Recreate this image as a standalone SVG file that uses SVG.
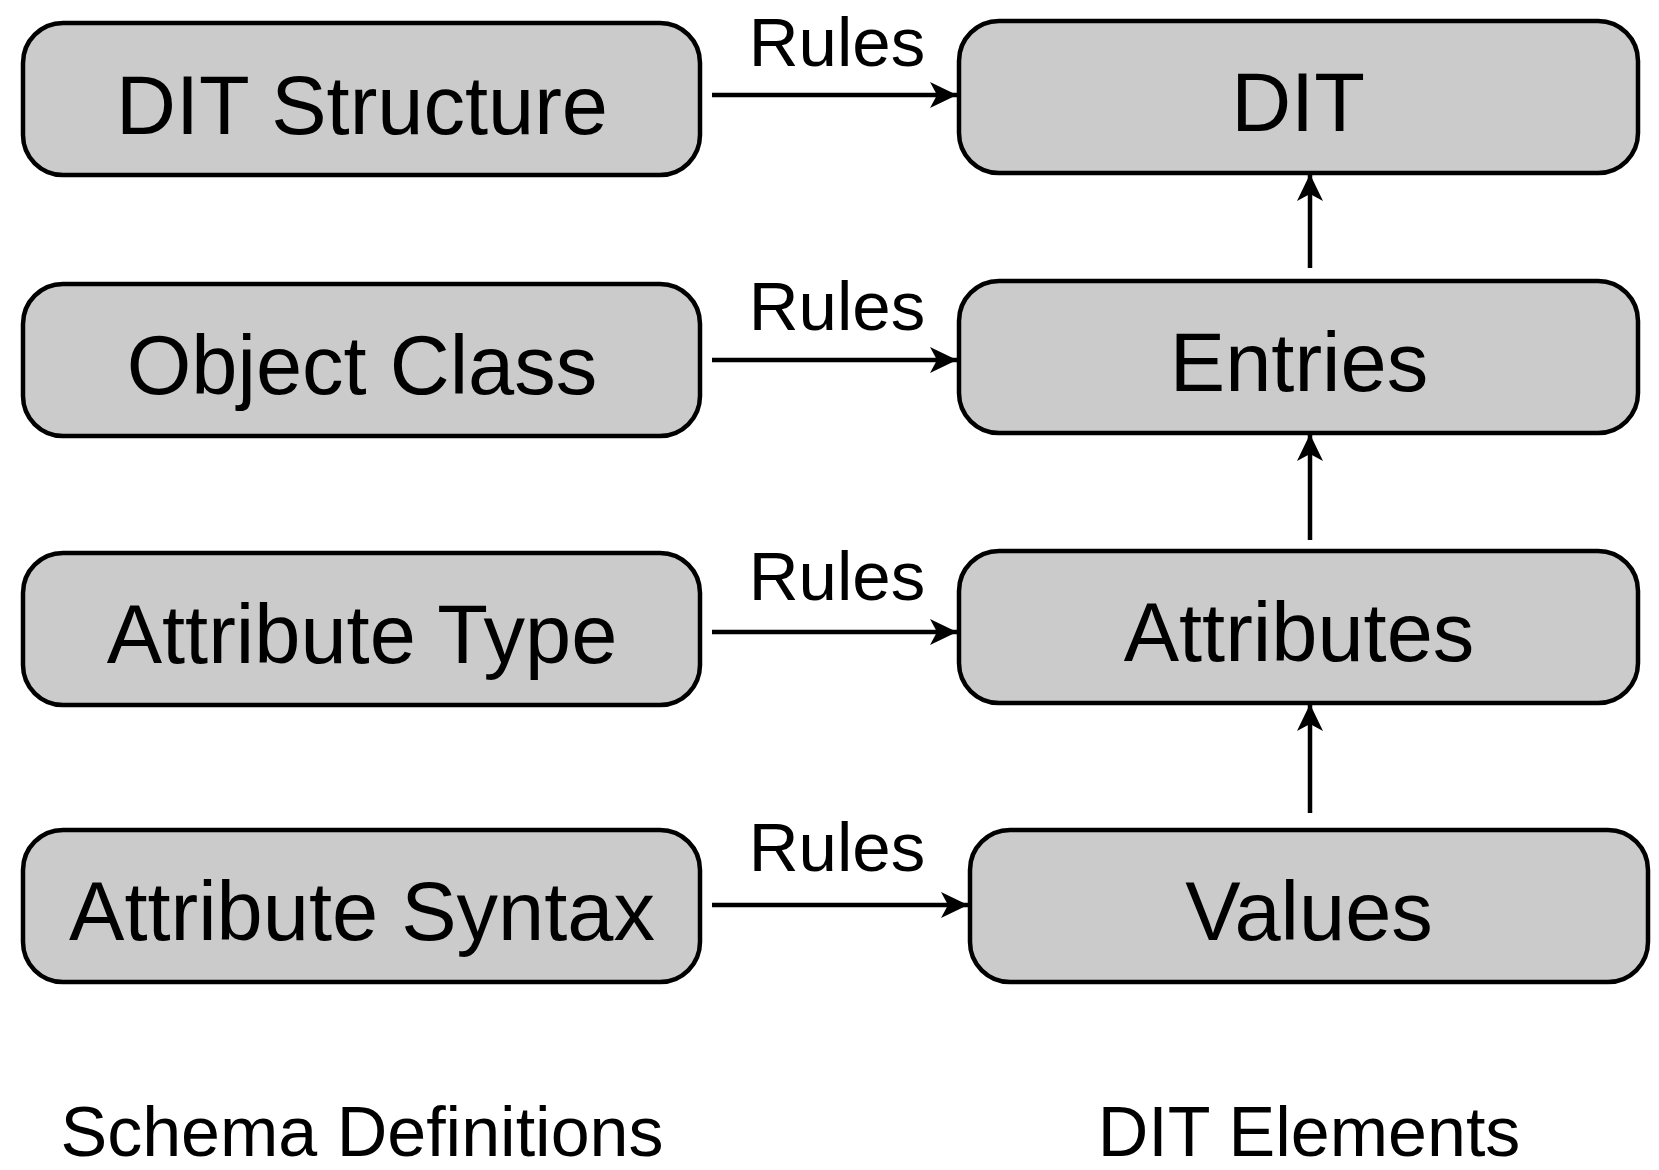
<svg xmlns="http://www.w3.org/2000/svg" width="1659" height="1170" viewBox="0 0 1659 1170">
<style>
.box{fill:#cbcbcb;stroke:#000;stroke-width:4.5}
.t{font-family:"Liberation Sans",Arial,sans-serif;font-size:83px;fill:#000;text-anchor:middle}
.r{font-family:"Liberation Sans",Arial,sans-serif;font-size:69px;fill:#000;text-anchor:middle}
.b{font-family:"Liberation Sans",Arial,sans-serif;font-size:70px;fill:#000;text-anchor:middle}
.c{stroke:#000;stroke-width:4.5;fill:none;marker-end:url(#ah)}
</style>
<defs>
<marker id="ah" markerUnits="userSpaceOnUse" viewBox="-30 -15 32 30" refX="0" refY="0" markerWidth="32" markerHeight="30" orient="auto">
<path d="M0,0 L-27,-13 L-20,0 L-27,13 Z" fill="#000"/>
</marker>
</defs>
<rect width="1659" height="1170" fill="#fff"/>
<g id="dit-structure"><rect class="box" x="23" y="23" width="677" height="152" rx="40"/><text class="t" x="362" y="134">DIT Structure</text></g>
<g id="object-class"><rect class="box" x="23" y="284" width="677" height="152" rx="40"/><text class="t" x="362" y="394">Object Class</text></g>
<g id="attribute-type"><rect class="box" x="23" y="553" width="677" height="152" rx="40"/><text class="t" x="362" y="663">Attribute Type</text></g>
<g id="attribute-syntax"><rect class="box" x="23" y="830" width="677" height="152" rx="40"/><text class="t" x="362" y="940">Attribute Syntax</text></g>
<g id="dit"><rect class="box" x="959" y="21" width="679" height="152" rx="40"/><text class="t" x="1298" y="131">DIT</text></g>
<g id="entries"><rect class="box" x="959" y="281" width="679" height="152" rx="40"/><text class="t" x="1299" y="391">Entries</text></g>
<g id="attributes"><rect class="box" x="959" y="551" width="679" height="152" rx="40"/><text class="t" x="1299" y="661">Attributes</text></g>
<g id="values"><rect class="box" x="970" y="830" width="678" height="152" rx="40"/><text class="t" x="1309" y="940">Values</text></g>
<g id="connectors">
<line class="c" x1="712" y1="95" x2="957" y2="95"/>
<line class="c" x1="712" y1="360" x2="957" y2="360"/>
<line class="c" x1="712" y1="632" x2="957" y2="632"/>
<line class="c" x1="712" y1="905" x2="968" y2="905"/>
<line class="c" x1="1310" y1="268" x2="1310" y2="174"/>
<line class="c" x1="1310" y1="540" x2="1310" y2="434"/>
<line class="c" x1="1310" y1="813" x2="1310" y2="704"/>
<text class="r" x="837" y="66">Rules</text>
<text class="r" x="837" y="330">Rules</text>
<text class="r" x="837" y="600">Rules</text>
<text class="r" x="837" y="871">Rules</text>
</g>
<text class="b" x="362" y="1156">Schema Definitions</text>
<text class="b" x="1309" y="1156">DIT Elements</text>
</svg>
